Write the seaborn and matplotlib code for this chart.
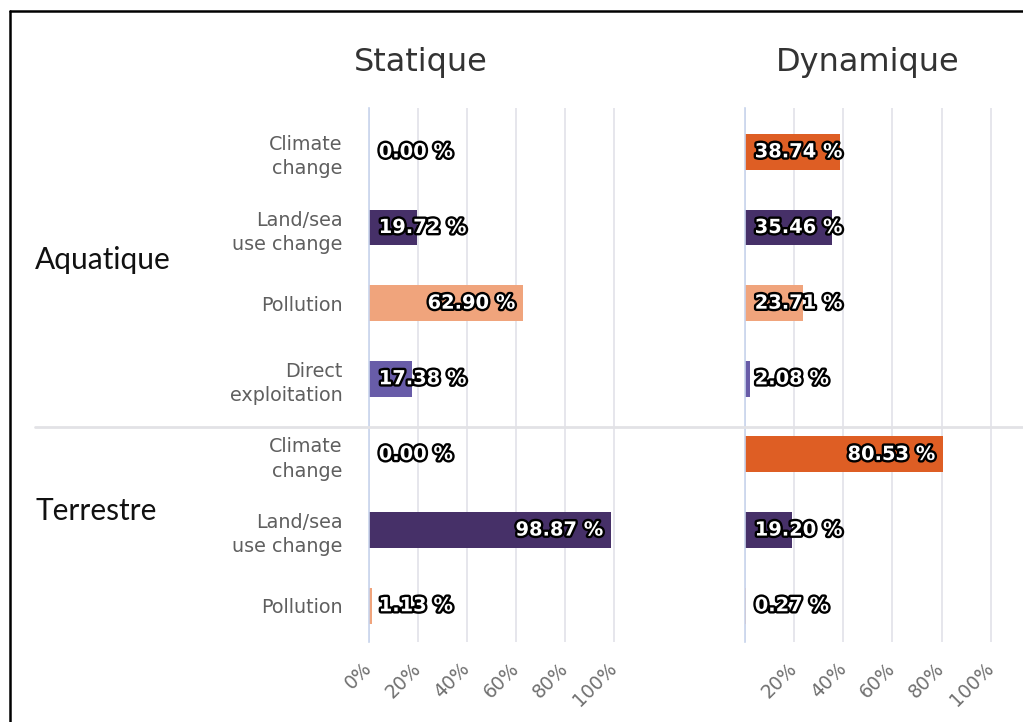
import matplotlib
matplotlib.use("Agg")
import matplotlib.pyplot as plt
import matplotlib.patheffects as pe
from matplotlib.lines import Line2D
import seaborn as sns
import pandas as pd

# ---------------- data ----------------
groups = ["Aquatique", "Aquatique", "Aquatique", "Aquatique",
          "Terrestre", "Terrestre", "Terrestre"]
drivers = ["Climate change", "Land/sea use change", "Pollution", "Direct exploitation",
           "Climate change", "Land/sea use change", "Pollution"]
driver_labels = ["Climate\nchange", "Land/sea\nuse change", "Pollution", "Direct\nexploitation",
                 "Climate\nchange", "Land/sea\nuse change", "Pollution"]
static_values = [0.00, 19.72, 62.90, 17.38, 0.00, 98.87, 1.13]
dynamic_values = [38.74, 35.46, 23.71, 2.08, 80.53, 19.20, 0.27]
panel_titles = ["Statique", "Dynamique"]
static_ticklabels = ["0%", "20%", "40%", "60%", "80%", "100%"]
dynamic_ticklabels = ["", "20%", "40%", "60%", "80%", "100%"]
tick_values = [0, 20, 40, 60, 80, 100]

palette = {
    "Climate change": "#de5e24",
    "Land/sea use change": "#463068",
    "Pollution": "#f0a47c",
    "Direct exploitation": "#685ca8",
}

rows = [f"{g}|{d}" for g, d in zip(groups, drivers)]

def make_df(values):
    return pd.DataFrame({"row": rows, "driver": drivers, "value": values})

# ---------------- figure ----------------
sns.set_theme(style="white")
plt.rcParams["font.family"] = ["DejaVu Sans"]
W, H = 1023, 722
fig = plt.figure(figsize=(W / 100, H / 100), dpi=100)

def fx(px):
    return px / W

def fy(py):
    return 1 - py / H

ax_top, ax_bot = 108, 642
axes_px = [(369, 615), (745, 992)]
axes = []
for (l, r) in axes_px:
    ax = fig.add_axes([fx(l), fy(ax_bot), (r - l) / W, (ax_bot - ax_top) / H])
    axes.append(ax)

datasets = [static_values, dynamic_values]
ticklabel_sets = [static_ticklabels, dynamic_ticklabels]
stroke = [pe.withStroke(linewidth=3.4, foreground="black")]

for i, (ax, vals) in enumerate(zip(axes, datasets)):
    df = make_df(vals)
    sns.barplot(data=df, x="value", y="row", hue="driver", palette=palette,
                dodge=False, width=0.475, orient="h", ax=ax, legend=False,
                order=rows, saturation=1, linewidth=0)
    ax.set_xlim(0, 100.5)
    ax.set_ylim(6.48, -0.58)
    ax.set_xlabel("")
    ax.set_ylabel("")
    for s in ["top", "right", "bottom"]:
        ax.spines[s].set_visible(False)
    ax.spines["left"].set_color("#c8d4ec")
    ax.spines["left"].set_linewidth(1.2)
    ax.set_xticks(tick_values)
    ax.set_xticklabels(ticklabel_sets[i], rotation=45, ha="right", va="center",
                       rotation_mode="anchor", color="#707070", fontsize=13.5)
    ax.tick_params(axis="x", length=0, pad=17)
    ax.grid(axis="x", color="#e4e4ea", linewidth=1.3)
    ax.grid(axis="y", visible=False)
    ax.set_axisbelow(True)
    if i == 0:
        ax.set_yticks(range(len(rows)))
        ax.set_yticklabels(driver_labels, color="#5f5f5f", fontsize=13.8,
                           linespacing=1.35)
        ax.tick_params(axis="y", length=0, pad=19)
    else:
        ax.set_yticks([])
    # value labels
    for j, v in enumerate(vals):
        txt = f"{v:.2f} %"
        if v > 50:
            ax.annotate(txt, xy=(v, j), xytext=(-5.5, 0), textcoords="offset points",
                        ha="right", va="center", color="white", fontsize=14,
                        fontweight="bold", path_effects=stroke)
        else:
            ax.annotate(txt, xy=(0, j), xytext=(7, 0), textcoords="offset points",
                        ha="left", va="center", color="white", fontsize=14,
                        fontweight="bold", path_effects=stroke)

# panel titles
fig.text(fx(421), fy(62), panel_titles[0], ha="center", va="center",
         fontsize=23, color="#333333")
fig.text(fx(868), fy(62), panel_titles[1], ha="center", va="center",
         fontsize=23, color="#333333")

# group labels
fig.text(fx(35), fy(260), "Aquatique", ha="left", va="center",
         fontsize=21.5, color="#111111", family=["Lato", "DejaVu Sans"])
fig.text(fx(35), fy(511), "Terrestre", ha="left", va="center",
         fontsize=21.5, color="#111111", family=["Lato", "DejaVu Sans"])

# separator between groups
fig.add_artist(Line2D([fx(35), 1.0], [fy(427), fy(427)], color="#e2e2e6",
                      linewidth=2, transform=fig.transFigure))

# frame lines (left and top)
fig.add_artist(Line2D([fx(10), fx(10)], [0, fy(11)], color="black",
                      linewidth=1.8, transform=fig.transFigure))
fig.add_artist(Line2D([fx(10), 1.0], [fy(11), fy(11)], color="black",
                      linewidth=1.8, transform=fig.transFigure))

fig.savefig("out.png", dpi=100, facecolor="white")
